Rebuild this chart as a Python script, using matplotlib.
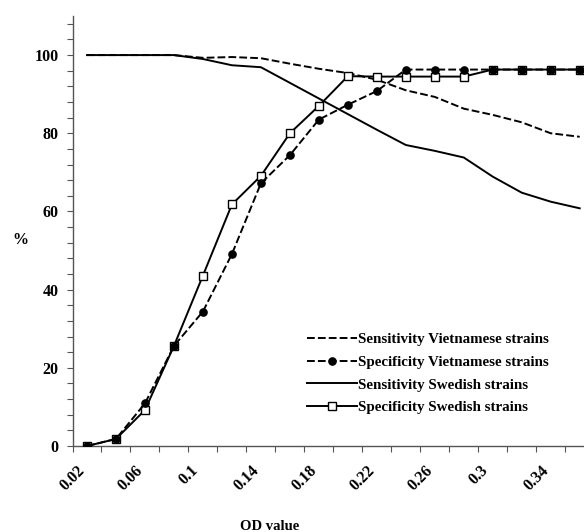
import matplotlib
matplotlib.use("Agg")
import matplotlib.pyplot as plt
from matplotlib.ticker import MultipleLocator, FuncFormatter

# OD cut-off values (x)
od = [0.03, 0.05, 0.07, 0.09, 0.11, 0.13, 0.15, 0.17, 0.19,
      0.21, 0.23, 0.25, 0.27, 0.29, 0.31, 0.33, 0.35, 0.37]

sens_viet = [100, 100, 100, 100, 99.3, 99.5, 99.2, 97.8, 96.5,
             95.4, 93.7, 91.0, 89.3, 86.3, 84.7, 82.8, 80.0, 79.1]
spec_viet = [0, 1.8, 10.9, 25.6, 34.4, 49.1, 67.2, 74.4, 83.5,
             87.3, 90.8, 96.3, 96.3, 96.3, 96.3, 96.3, 96.3, 96.3]
sens_swed = [100, 100, 100, 100, 99.0, 97.4, 96.9, 92.9, 88.9,
             84.9, 80.9, 77.0, 75.5, 73.8, 68.9, 64.8, 62.5, 60.8]
spec_swed = [0, 1.8, 9.2, 25.6, 43.6, 61.8, 69.1, 80.0, 87.0,
             94.6, 94.5, 94.5, 94.5, 94.5, 96.3, 96.3, 96.3, 96.3]

labels = ["Sensitivity Vietnamese strains", "Specificity Vietnamese strains",
          "Sensitivity Swedish strains", "Specificity Swedish strains"]

plt.rcParams['font.family'] = ['Liberation Serif', 'DejaVu Serif']
plt.rcParams['font.weight'] = 'bold'
FS = 11.5

fig = plt.figure(figsize=(5.84, 5.32), dpi=100)
ax = fig.add_axes([72.5 / 584, 86 / 532, 521 / 584, 430 / 532])

lw = 1.4
dash = (4, 1.6)
ax.plot(od, sens_viet, color='black', lw=lw, dashes=dash, label=labels[0], zorder=3)
ax.plot(od, spec_swed, color='black', lw=lw, marker='s', ms=5.8, mfc='white',
        mec='black', mew=1.0, label=labels[3], zorder=4)
ax.plot(od, spec_viet, color='black', lw=lw, dashes=dash, marker='o', ms=5.2,
        mfc='black', mec='black', label=labels[1], zorder=5)
ax.plot(od, sens_swed, color='black', lw=lw, label=labels[2], zorder=3)

ax.set_xlim(0.02, 0.3795)
ax.set_ylim(0, 110)

for s in ['top', 'right']:
    ax.spines[s].set_visible(False)
for s in ['left', 'bottom']:
    ax.spines[s].set_linewidth(1.0)
    ax.spines[s].set_color('#555555')

ax.yaxis.set_major_locator(MultipleLocator(20))
ax.yaxis.set_minor_locator(MultipleLocator(4))
ax.xaxis.set_major_locator(MultipleLocator(0.04, offset=0.02))
ax.xaxis.set_minor_locator(MultipleLocator(0.02))
ax.xaxis.set_major_formatter(FuncFormatter(lambda v, p: ('%.2f' % v).rstrip('0')))

ax.tick_params(axis='both', which='both', direction='out', length=4, width=0.8,
               color='#555555')
ax.tick_params(axis='y', labelsize=FS, pad=6)
ax.tick_params(axis='x', labelsize=FS, pad=8, labelrotation=45)
for t in ax.get_xticklabels() + ax.get_yticklabels():
    t.set_fontweight('bold')

ax.set_ylabel('%', rotation=0, fontsize=FS, fontweight='bold', va='center')
ax.yaxis.set_label_coords(-0.1, 0.479)
fig.text(270 / 584, 1 - 527 / 532, 'OD value', ha='center', va='center',
         fontsize=10.5, fontweight='bold')

handles, labs = ax.get_legend_handles_labels()
order = [labs.index(l) for l in labels]
leg = ax.legend([handles[i] for i in order], [labs[i] for i in order],
                loc='upper left', bbox_to_anchor=(301 / 584, 1 - 327 / 532),
                bbox_transform=fig.transFigure, frameon=False,
                prop={'size': 10.8, 'weight': 'bold'}, handlelength=3.3,
                handletextpad=0.12, labelspacing=0.6, borderaxespad=0)

fig.savefig('out.png', dpi=100)
